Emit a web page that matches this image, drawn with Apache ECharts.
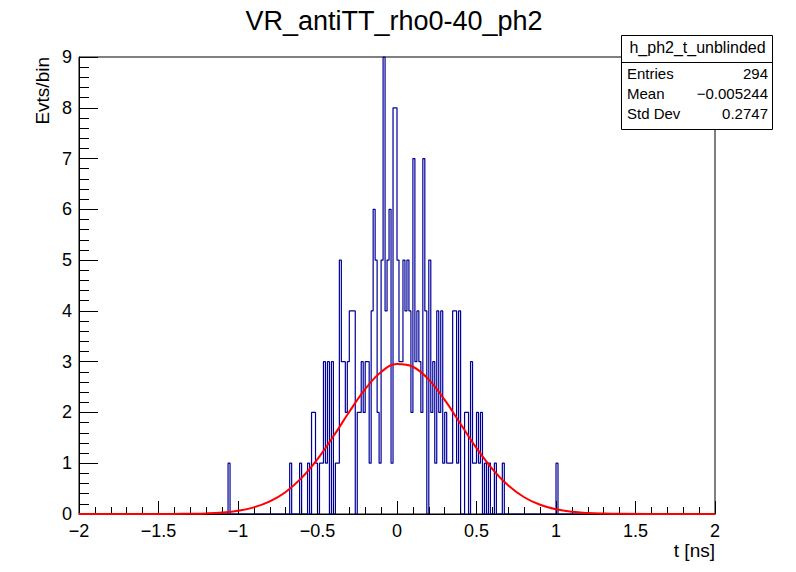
<!DOCTYPE html>
<html>
<head>
<meta charset="utf-8">
<script src="https://cdn.jsdelivr.net/npm/echarts@6/dist/echarts.min.js"></script>
<style>
html,body{margin:0;padding:0;background:#ffffff;}
#c{width:796px;height:572px;}
</style>
</head>
<body>
<div id="c"></div>
<script>
// ---------- data ----------
const chartTitle = 'VR_antiTT_rho0-40_ph2';
const xTitle = 't [ns]';
const yTitle = 'Evts/bin';
const xMin = -2, xMax = 2, binWidth = 0.0125;
const yMin = 0, yMax = 9;

// non-empty bins: index counted from xMin in steps of binWidth, and their contents
const binIndex = [75,106,111,115,117,118,119,121,122,123,124,125,127,129,130,
  131,132,133,134,135,136,137,138,140,141,142,143,144,145,146,147,148,149,150,151,
  152,153,154,155,156,157,158,159,160,161,162,163,164,165,166,167,168,169,170,171,
  172,173,174,176,177,178,179,180,181,182,183,184,185,186,187,188,189,190,191,
  194,195,197,198,199,200,201,202,204,206,209,213,240];
const binCount = [1,1,1,1,2,2,1,1,1,3,1,3,3,1,1,
  5,3,3,2,3,4,4,4,2,2,3,2,3,3,1,4,6,5,2,1,
  5,9,4,5,6,1,8,8,5,3,3,5,4,5,4,2,7,3,4,3,
  2,7,4,5,2,3,1,4,2,4,1,2,1,1,1,4,4,1,4,
  2,2,3,1,1,2,1,2,1,1,1,1,1];

// fitted curve
const fitX = [-2,-1.4,-1.3,-1.2,-1.1,-1.0,-0.9,-0.8,-0.7,-0.6,-0.5,-0.4,-0.3,-0.2,-0.1,0,
  0.1,0.2,0.3,0.4,0.5,0.6,0.7,0.8,0.9,1.0,1.1,1.2,1.3,1.4,2];
const fitY = [0,0.002,0.005,0.012,0.029,0.064,0.13,0.247,0.434,0.711,1.082,1.53,2.013,2.46,2.796,2.953,
  2.9,2.647,2.246,1.771,1.298,0.885,0.561,0.33,0.181,0.092,0.043,0.019,0.008,0.003,0];

// statistics box
const statsName = 'h_ph2_t_unblinded';
const statsLabels = ['Entries', 'Mean', 'Std Dev'];
const statsValues = ['294', '\u22120.005244', '0.2747'];

// ---------- build ----------
const nBins = Math.round((xMax - xMin) / binWidth);
const counts = new Array(nBins).fill(0);
binIndex.forEach((k, i) => { counts[k] = binCount[i]; });
const histData = counts.map((c, k) => [xMin + k * binWidth, c]);
histData.push([xMax, 0]);
const fitData = fitX.map((x, i) => [x, fitY[i]]);

const FONT = '"Liberation Sans", Arial, Helvetica, sans-serif';
const fmt = v => (v < 0 ? '\u2212' : '') + String(Math.abs(Math.round(v * 1000) / 1000));

const chart = echarts.init(document.getElementById('c'), null, {renderer: 'svg', width: 796, height: 572});

function txt(x, y, s, size, align, extra) {
  return Object.assign({
    type: 'text', x: x, y: y, z: 20,
    style: {text: s, fill: '#000', font: size + 'px ' + FONT, lineHeight: size,
      textAlign: align, textVerticalAlign: 'middle', align: align, verticalAlign: 'middle'}
  }, extra || {});
}

const boxL = 621, boxT = 35, boxW = 151, boxH = 94;

const option = {
  animation: false,
  backgroundColor: '#ffffff',
  grid: {left: 79, top: 57, width: 636, height: 457, show: true,
    borderColor: '#000', borderWidth: 1, backgroundColor: 'transparent'},
  xAxis: {
    type: 'value', min: xMin, max: xMax, interval: 0.5, z: 3,
    axisLine: {show: true, onZero: false, lineStyle: {color: '#000', width: 1}},
    axisTick: {show: true, inside: true, length: 13, lineStyle: {color: '#000', width: 1}},
    minorTick: {show: true, splitNumber: 5, length: 7, lineStyle: {color: '#000', width: 1}},
    splitLine: {show: false}, minorSplitLine: {show: false},
    axisLabel: {color: '#000', fontFamily: FONT, fontSize: 18, lineHeight: 14, margin: 10,
      showMinLabel: true, showMaxLabel: true, formatter: fmt}
  },
  yAxis: {
    type: 'value', min: yMin, max: yMax, interval: 1, z: 3,
    axisLine: {show: true, onZero: false, lineStyle: {color: '#000', width: 1}},
    axisTick: {show: true, inside: true, length: 19, lineStyle: {color: '#000', width: 1}},
    minorTick: {show: true, splitNumber: 5, length: 10, lineStyle: {color: '#000', width: 1}},
    splitLine: {show: false}, minorSplitLine: {show: false},
    axisLabel: {color: '#000', fontFamily: FONT, fontSize: 18, lineHeight: 14, margin: 7,
      showMinLabel: true, showMaxLabel: true, formatter: fmt}
  },
  series: [
    {type: 'line', data: histData, step: 'end', symbol: 'none', z: 2,
      lineStyle: {color: '#000099', width: 1.2}, clip: false},
    {type: 'line', data: fitData, smooth: 0.4, symbol: 'none', z: 4,
      lineStyle: {color: '#ff0000', width: 2}}
  ],
  graphic: [
    txt(394, 21, chartTitle, 27, 'center'),
    txt(715, 550, xTitle, 19, 'right'),
    txt(42, 57, yTitle, 19, 'right', {rotation: Math.PI / 2}),
    {type: 'rect', z: 15, shape: {x: boxL + 0.5, y: boxT + 0.5, width: boxW, height: boxH},
      style: {fill: '#ffffff', stroke: '#000', lineWidth: 1}},
    {type: 'line', z: 16, shape: {x1: boxL + 0.5, y1: 62.5, x2: boxL + boxW + 0.5, y2: 62.5},
      style: {stroke: '#000', lineWidth: 1}},
    txt(boxL + boxW / 2 + 1, 47, statsName, 16, 'center'),
    txt(627, 73, statsLabels[0], 15, 'left'),
    txt(627, 93, statsLabels[1], 15, 'left'),
    txt(627, 113, statsLabels[2], 15, 'left'),
    txt(768, 73, statsValues[0], 15, 'right'),
    txt(768, 93, statsValues[1], 15, 'right'),
    txt(768, 113, statsValues[2], 15, 'right')
  ]
};
chart.setOption(option);
</script>
</body>
</html>
